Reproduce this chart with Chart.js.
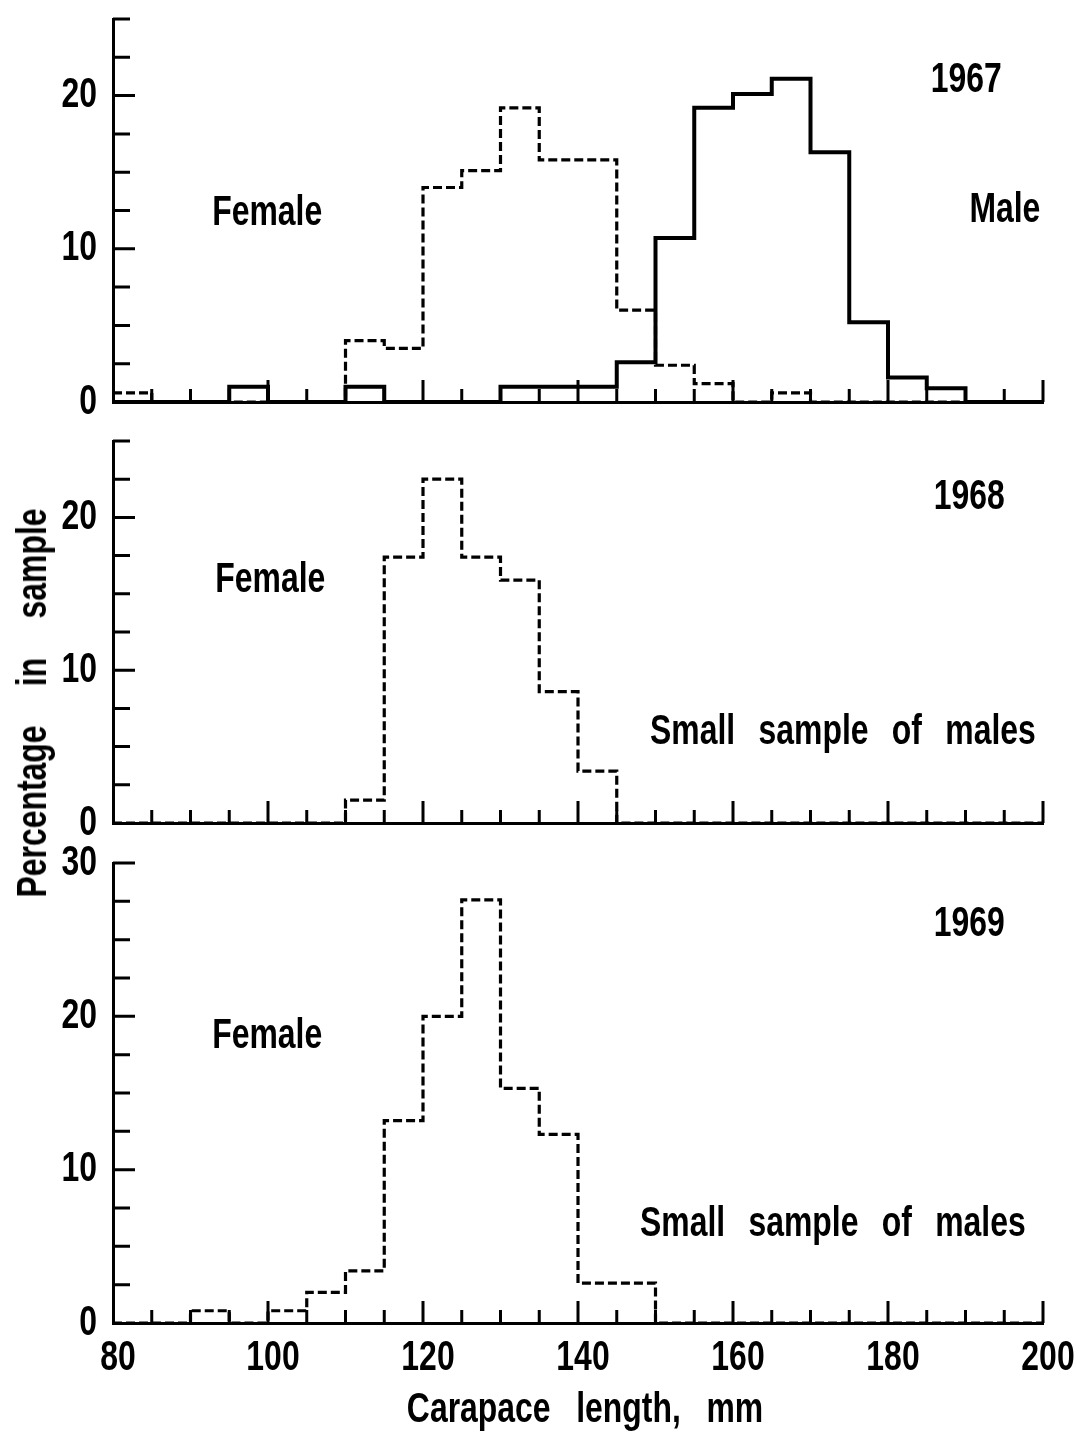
<!DOCTYPE html>
<html>
<head>
<meta charset="utf-8">
<script src="https://cdn.jsdelivr.net/npm/chart.js@4.4.0/dist/chart.umd.min.js"></script>
<style>
  body { margin: 0; background: #fff; }
  #wrap { position: relative; width: 1079px; height: 1437px; overflow: hidden; }
  #wrap canvas { position: absolute; left: 0; }
  #ytitle {
    position: absolute; left: 32px; top: 703px;
    transform: translate(-50%, -50%) rotate(-90deg) scaleX(0.76);
    white-space: nowrap; line-height: 1;
    font: bold 42px "Liberation Sans", Arial, sans-serif;
    word-spacing: 40px; color: #000;
  }
</style>
</head>
<body>
<div id="wrap">
  <canvas id="p1967" width="1079" height="430" style="top:0px"></canvas>
  <canvas id="p1968" width="1079" height="420" style="top:425px"></canvas>
  <canvas id="p1969" width="1079" height="592" style="top:845px"></canvas>
  <div id="ytitle">Percentage in sample</div>
</div>
<script>
// 5-mm carapace length classes (left edges), last class ends at 200
const lengthBins = [80, 85, 90, 95, 100, 105, 110, 115, 120, 125, 130, 135,
                    140, 145, 150, 155, 160, 165, 170, 175, 180, 185, 190, 195];
const lastEdge = 200;

// percentage in sample
const female1967 = [0.6, 0, 0, 0, 0, 0, 4.0, 3.5, 14.0, 15.1, 19.2, 15.8,
                    15.8, 6.0, 2.4, 1.2, 0, 0.6, 0, 0, 0, 0, 0, 0];
const male1967   = [0, 0, 0, 1.0, 0, 0, 1.0, 0, 0, 0, 1.0, 1.0,
                    1.0, 2.6, 10.7, 19.2, 20.1, 21.1, 16.3, 5.2, 1.6, 0.9, 0, 0];
const female1968 = [0, 0, 0, 0, 0, 0, 1.5, 17.4, 22.5, 17.4, 15.9, 8.6,
                    3.4, 0, 0, 0, 0, 0, 0, 0, 0, 0, 0, 0];
const female1969 = [0, 0, 0.8, 0, 0.8, 2.0, 3.4, 13.2, 20.0, 27.6, 15.3, 12.3,
                    2.6, 2.6, 0, 0, 0, 0, 0, 0, 0, 0, 0, 0];

const yLabelsLow = [0, 10, 20];
const yLabelsHigh = [0, 10, 20, 30];
const xLabels = [80, 100, 120, 140, 160, 180, 200];

// the lettering of the figure is a narrow stencil face: squeeze a sans horizontally
const FONT = 'bold 42px "Liberation Sans", Arial, sans-serif';
const SQUEEZE = 0.76;

function steps(values) {
  const pts = lengthBins.map((b, i) => ({ x: b, y: values[i] }));
  pts.push({ x: lastEdge, y: 0 });
  return pts;
}

function narrowText(ctx, text, x, y, align, spacing) {
  ctx.save();
  ctx.translate(x, y);
  ctx.scale(SQUEEZE, 1);
  ctx.font = FONT;
  ctx.fillStyle = '#000';
  ctx.textAlign = align;
  ctx.textBaseline = 'middle';
  if ('wordSpacing' in ctx) ctx.wordSpacing = (spacing || 0) + 'px';
  ctx.fillText(text, 0, 0);
  ctx.restore();
}

// tick marks pointing into the plot, longer at labelled values
const inwardTicks = {
  id: 'inwardTicks',
  afterDraw(chart) {
    const { ctx, scales: { x, y } } = chart;
    ctx.save();
    ctx.strokeStyle = '#000';
    ctx.lineWidth = 3;
    ctx.beginPath();
    y.ticks.forEach(t => {
      if (t.value === 0) return;
      const py = y.getPixelForValue(t.value);
      const len = t.value % 10 === 0 ? 22 : 17;
      ctx.moveTo(x.left, py);
      ctx.lineTo(x.left + len, py);
    });
    x.ticks.forEach(t => {
      if (t.value === x.min) return;
      const px = x.getPixelForValue(t.value);
      const len = t.value % 20 === 0 ? 22 : 13;
      ctx.moveTo(px, y.bottom);
      ctx.lineTo(px, y.bottom - len);
    });
    ctx.stroke();
    ctx.restore();
  }
};

function lettering(cfg) {
  return {
    id: 'lettering',
    afterDraw(chart) {
      const { ctx, scales: { x, y } } = chart;
      y.ticks.forEach(t => {
        if (cfg.yLabels.includes(t.value)) {
          narrowText(ctx, String(t.value), x.left - 16, y.getPixelForValue(t.value), 'right');
        }
      });
      if (cfg.xLabels) {
        x.ticks.forEach(t => {
          if (xLabels.includes(t.value)) {
            narrowText(ctx, String(t.value), x.getPixelForValue(t.value) + 5, y.bottom + 35, 'center');
          }
        });
      }
      if (cfg.xTitle) {
        narrowText(ctx, cfg.xTitle, (x.left + x.right) / 2 + 7, y.bottom + 87, 'center', 22);
      }
      cfg.notes.forEach(n => {
        narrowText(ctx, n.text, x.getPixelForValue(n.x), y.getPixelForValue(n.y), 'left', 19);
      });
    }
  };
}

function femaleSet(values) {
  return {
    data: steps(values), stepped: 'before', borderColor: '#000',
    borderWidth: 3.2, borderDash: [9, 4], pointRadius: 0, fill: false
  };
}

function maleSet(values) {
  return {
    data: steps(values), stepped: 'before', borderColor: '#000',
    borderWidth: 4, pointRadius: 0, fill: false
  };
}

function makePanel(id, datasets, yMax, cfg) {
  const ctx = document.getElementById(id).getContext('2d');
  return new Chart(ctx, {
    type: 'line',
    data: { datasets },
    options: {
      responsive: false,
      animation: false,
      layout: { padding: { top: cfg.top, right: 36, left: 0, bottom: 0 } },
      plugins: { legend: { display: false }, tooltip: { enabled: false } },
      scales: {
        x: {
          type: 'linear', min: 80, max: 200,
          grid: { display: false, drawTicks: false, tickLength: 0 },
          border: { display: true, color: '#000', width: 3 },
          ticks: { display: false, stepSize: 5, autoSkip: false },
          afterFit: s => {
            s.height = cfg.xHeight;
            s.paddingLeft = 0; s.paddingRight = 0;
          }
        },
        y: {
          min: 0, max: yMax,
          grid: { display: false, drawTicks: false, tickLength: 0 },
          border: { display: true, color: '#000', width: 3 },
          ticks: { display: false, stepSize: 2.5, autoSkip: false },
          afterFit: s => {
            s.width = 113;
            s.paddingTop = 0; s.paddingBottom = 0;
          }
        }
      }
    },
    plugins: [inwardTicks, lettering(cfg)]
  });
}

makePanel('p1967', [femaleSet(female1967), maleSet(male1967)], 25, {
  top: 19, xHeight: 28, yLabels: yLabelsLow, xLabels: false,
  notes: [
    { text: '1967', x: 185.5, y: 21.0 },
    { text: 'Male', x: 190.5, y: 12.5 },
    { text: 'Female', x: 92.8, y: 12.3 }
  ]
});

makePanel('p1968', [femaleSet(female1968)], 25, {
  top: 16, xHeight: 22, yLabels: yLabelsLow, xLabels: false,
  notes: [
    { text: '1968', x: 185.9, y: 21.3 },
    { text: 'Female', x: 93.2, y: 15.9 },
    { text: 'Small sample of males', x: 149.3, y: 5.9 }
  ]
});

makePanel('p1969', [femaleSet(female1969)], 30, {
  top: 18, xHeight: 114, yLabels: yLabelsHigh, xLabels: true,
  xTitle: 'Carapace length, mm',
  notes: [
    { text: '1969', x: 185.9, y: 26.0 },
    { text: 'Female', x: 92.8, y: 18.7 },
    { text: 'Small sample of males', x: 148.0, y: 6.4 }
  ]
});
</script>
</body>
</html>
